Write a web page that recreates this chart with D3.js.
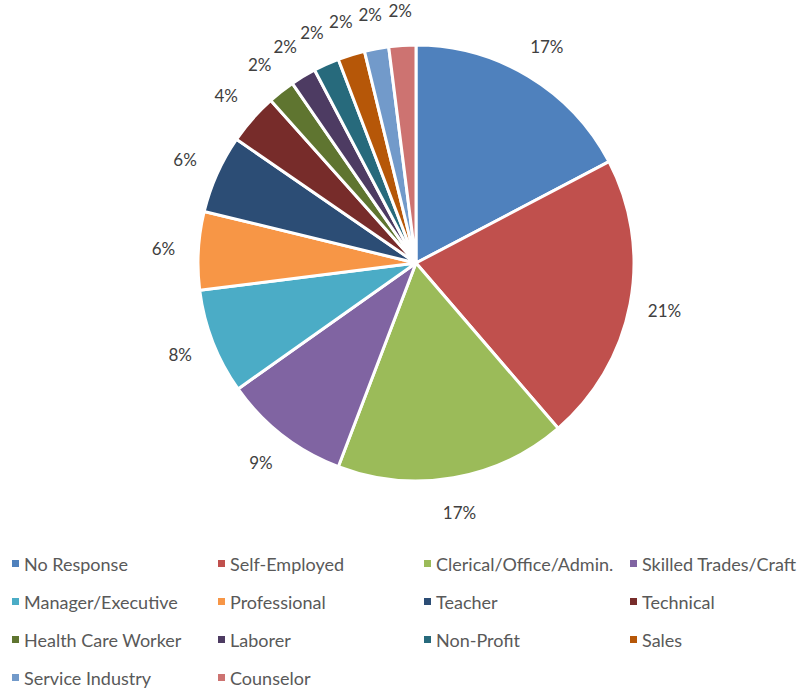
<!DOCTYPE html>
<html>
<head>
<meta charset="utf-8">
<script src="https://cdn.jsdelivr.net/npm/d3@7"></script>
<style>
  body { margin: 0; background: #fff; }
  svg { display: block; }
  text { font-family: Lato, "Open Sans", sans-serif; }
</style>
</head>
<body>
<script>
// occupation shares (percent), clockwise from 12 o'clock
var categories = ["No Response", "Self-Employed", "Clerical/Office/Admin.", "Skilled Trades/Craft",
  "Manager/Executive", "Professional", "Teacher", "Technical",
  "Health Care Worker", "Laborer", "Non-Profit", "Sales",
  "Service Industry", "Counselor"];
var values = [17.3, 21.4, 17.1, 9.4, 7.8, 5.8, 5.8, 3.8, 2.0, 1.9, 1.9, 2.0, 1.8, 2.0];
var colors = ["#4F81BD", "#C0504D", "#9BBB59", "#8064A2", "#4BACC6", "#F79646", "#2C4D75",
  "#772C2A", "#5F7530", "#4D3B62", "#276A7C", "#B65708", "#729ACA", "#CD7371"];

var WIDTH = 812, HEIGHT = 692;
var CX = 416, CY = 263, R = 218;
var LABEL_R = 253;

var data = categories.map(function(c, i) { return {name: c, value: values[i], color: colors[i]}; });

var svg = d3.select("body").append("svg")
  .attr("width", WIDTH)
  .attr("height", HEIGHT);

var pie = d3.pie().value(function(d) { return d.value; }).sort(null);
var arc = d3.arc().innerRadius(0).outerRadius(R);
var arcs = pie(data);

var g = svg.append("g").attr("transform", "translate(" + CX + "," + CY + ")");

g.selectAll("path")
  .data(arcs)
  .enter().append("path")
    .attr("d", arc)
    .attr("fill", function(d) { return d.data.color; })
    .attr("stroke", "#fff")
    .attr("stroke-width", 3)
    .attr("stroke-linejoin", "round");

// data labels, outside end
var total = d3.sum(values);
g.selectAll("text.lbl")
  .data(arcs)
  .enter().append("text")
    .attr("class", "lbl")
    .attr("x", function(d) { return LABEL_R * Math.sin((d.startAngle + d.endAngle) / 2); })
    .attr("y", function(d) { return -LABEL_R * Math.cos((d.startAngle + d.endAngle) / 2); })
    .attr("text-anchor", "middle")
    .attr("dominant-baseline", "central")
    .attr("font-size", 17)
    .attr("fill", "#404040")
    .text(function(d) { return Math.round(d.data.value / total * 100) + "%"; });

// legend, 4 columns
var colX = d3.scaleLinear().domain([0, 1]).range([12, 218]);
var rowY = d3.scaleLinear().domain([0, 1]).range([564, 602]);

var leg = svg.selectAll("g.leg")
  .data(data)
  .enter().append("g")
    .attr("class", "leg")
    .attr("transform", function(d, i) {
      return "translate(" + colX(i % 4) + "," + rowY(Math.floor(i / 4)) + ")";
    });

leg.append("rect")
  .attr("x", 0).attr("y", -4)
  .attr("width", 7).attr("height", 7)
  .attr("fill", function(d) { return d.color; });

leg.append("text")
  .attr("x", 12)
  .attr("y", 0)
  .attr("dominant-baseline", "central")
  .attr("font-size", 18)
  .attr("fill", "#595959")
  .text(function(d) { return d.name; });
</script>
</body>
</html>
